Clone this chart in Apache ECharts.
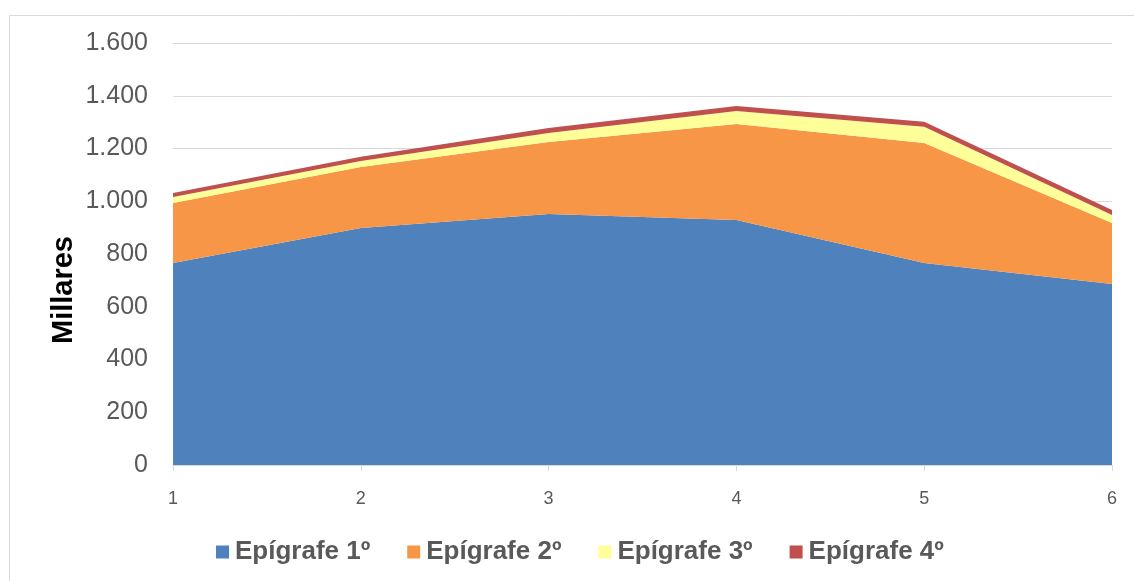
<!DOCTYPE html>
<html>
<head>
<meta charset="utf-8">
<script src="https://cdn.jsdelivr.net/npm/echarts@6/dist/echarts.min.js"></script>
<style>
  html, body { margin: 0; padding: 0; background: #ffffff; }
  #chart { width: 1134px; height: 581px; }
</style>
</head>
<body>
<div id="chart"></div>
<script>
// Categories along the x axis
const categories = ['1', '2', '3', '4', '5', '6'];

// Stacked series values (thousands)
const epigrafe1 = [766, 899, 952, 929, 766, 686];
const epigrafe2 = [227, 231, 273, 364, 455, 232];
const epigrafe3 = [23, 23, 34, 49, 61, 30];
const epigrafe4 = [15, 16, 19, 19, 19, 19];

const seriesNames = ['Epígrafe 1º', 'Epígrafe 2º', 'Epígrafe 3º', 'Epígrafe 4º'];
const seriesData = [epigrafe1, epigrafe2, epigrafe3, epigrafe4];
const seriesColors = ['#4F81BD', '#F79646', '#FFFF99', '#C0504D'];

// Y axis range
const yMin = 0;
const yMax = 1600;
const yStep = 200;

function thousands(v) {
  return String(v).replace(/\B(?=(\d{3})+(?!\d))/g, '.');
}

const FONT = 'Liberation Sans, Arial, sans-serif';
const chart = echarts.init(document.getElementById('chart'));

chart.setOption({
  animation: false,
  backgroundColor: '#ffffff',
  color: seriesColors,
  grid: { left: 173, right: 22, top: 43, bottom: 116, containLabel: false },
  legend: {
    top: 534,
    left: 211,
    itemWidth: 13,
    itemHeight: 13,
    itemGap: 37,
    icon: 'rect',
    textStyle: { fontFamily: FONT, fontSize: 26, fontWeight: 'bold', color: '#595959', padding: [0, 0, 0, 1] },
    data: seriesNames
  },
  xAxis: {
    type: 'category',
    data: categories,
    boundaryGap: false,
    axisLine: { lineStyle: { color: '#d9d9d9', width: 1 } },
    axisTick: { show: true, length: 6, lineStyle: { color: '#d9d9d9' } },
    axisLabel: { fontFamily: FONT, fontSize: 18, color: '#595959', margin: 25 },
    splitLine: { show: false }
  },
  yAxis: {
    type: 'value',
    min: yMin,
    max: yMax,
    interval: yStep,
    axisLine: { show: false },
    axisTick: { show: false },
    axisLabel: {
      fontFamily: FONT, fontSize: 25, color: '#595959', margin: 25,
      formatter: function (v) { return thousands(v); }
    },
    splitLine: { lineStyle: { color: '#d9d9d9', width: 1 } }
  },
  graphic: [
    {
      type: 'rect',
      left: 7, top: 13,
      shape: { width: 1140, height: 580 },
      style: { fill: 'none', stroke: '#d9d9d9', lineWidth: 1 },
      silent: true
    },
    {
      type: 'text',
      x: 64, y: 290,
      rotation: Math.PI / 2,
      style: {
        text: 'Millares',
        fontFamily: FONT,
        fontSize: 29, fontWeight: 'bold', fill: '#000000',
        align: 'center', verticalAlign: 'middle'
      }
    }
  ],
  series: seriesNames.map(function (name, i) {
    return {
      name: name,
      type: 'line',
      stack: 'total',
      data: seriesData[i],
      symbol: 'none',
      lineStyle: { width: 0 },
      areaStyle: { color: seriesColors[i], opacity: 1 },
      itemStyle: { color: seriesColors[i] }
    };
  })
});
</script>
</body>
</html>
